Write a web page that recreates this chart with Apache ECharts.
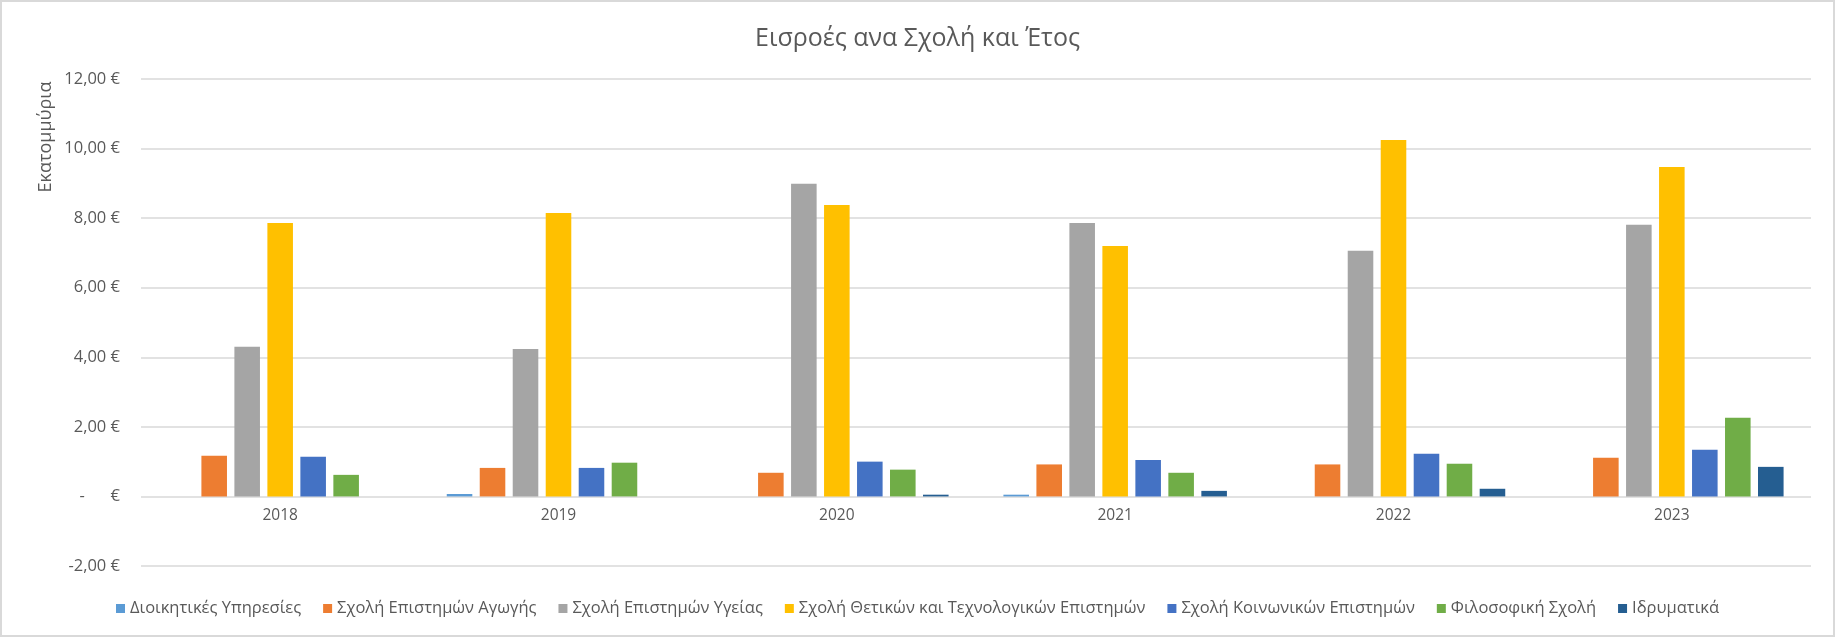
<!DOCTYPE html>
<html>
<head>
<meta charset="utf-8">
<script src="https://cdn.jsdelivr.net/npm/echarts@6/dist/echarts.min.js"></script>
<style>
html,body{margin:0;padding:0;background:#fff;}
#c{width:1835px;height:637px;box-sizing:border-box;border:2px solid #d9d9d9;}
</style>
</head>
<body>
<div id="c"></div>
<script>
const years = ['2018','2019','2020','2021','2022','2023'];
const seriesNames = [
  'Διοικητικές Υπηρεσίες',
  'Σχολή Επιστημών Αγωγής',
  'Σχολή Επιστημών Υγείας',
  'Σχολή Θετικών και Τεχνολογικών Επιστημών',
  'Σχολή Κοινωνικών Επιστημών',
  'Φιλοσοφική Σχολή',
  'Ιδρυματικά'
];
const dioikitikes = [0, 0.07, 0, 0.05, 0, 0];
const agogis = [1.17, 0.82, 0.68, 0.92, 0.92, 1.11];
const ygeias = [4.30, 4.24, 8.99, 7.86, 7.06, 7.81];
const thetikon = [7.86, 8.15, 8.38, 7.20, 10.25, 9.47];
const koinonikon = [1.14, 0.82, 1.00, 1.05, 1.23, 1.34];
const filosofiki = [0.62, 0.97, 0.77, 0.68, 0.94, 2.26];
const idrymatika = [0, 0, 0.05, 0.16, 0.22, 0.85];
const yTicks = [-2, 0, 2, 4, 6, 8, 10, 12];

const values = [dioikitikes, agogis, ygeias, thetikon, koinonikon, filosofiki, idrymatika];
const colors = ['#5B9BD5','#ED7D31','#A5A5A5','#FFC000','#4472C4','#70AD47','#255E91'];
const FONT = '"Open Sans", "Noto Sans", sans-serif';
const TXT = '#595959';

function fmt(v){
  if (v === 0) return '-      €';
  return v.toFixed(2).replace('.', ',') + ' €';
}

const GRID_TOP = 77, GRID_BOTTOM = 69, H = 637;
const yMin = yTicks[0], yMax = yTicks[yTicks.length - 1];
// pixel distance from grid bottom up to the zero line, so the year labels sit under zero
const zeroOffset = (H - GRID_TOP - GRID_BOTTOM) * (0 - yMin) / (yMax - yMin);

const chart = echarts.init(document.getElementById('c'));
chart.setOption({
  animation: false,
  color: colors,
  textStyle: { fontFamily: FONT },
  title: {
    text: 'Εισροές ανα Σχολή και Έτος',
    left: 'center',
    top: 19,
    textStyle: { fontFamily: FONT, fontSize: 25, fontWeight: 'normal', color: TXT }
  },
  legend: {
    data: seriesNames,
    top: 593,
    left: 'center',
    icon: 'rect',
    itemWidth: 9,
    itemHeight: 9,
    itemGap: 22,
    textStyle: { fontFamily: FONT, fontSize: 16.5, color: TXT }
  },
  graphic: [{
    type: 'text',
    x: 44,
    y: 135,
    rotation: Math.PI / 2,
    style: { text: 'Εκατομμύρια', fill: TXT, font: '18px ' + FONT, textAlign: 'center', textVerticalAlign: 'middle' }
  }],
  grid: { left: 139, right: 22, top: GRID_TOP, bottom: GRID_BOTTOM },
  xAxis: {
    type: 'category',
    data: years,
    offset: -zeroOffset,
    axisTick: { show: false },
    axisLine: { show: false, onZero: false },
    axisLabel: { color: TXT, fontSize: 15.5, fontFamily: FONT, margin: 12 }
  },
  yAxis: {
    type: 'value',
    min: yMin,
    max: yMax,
    interval: 2,
    axisLine: { show: false },
    axisTick: { show: false },
    splitLine: { lineStyle: { color: '#d9d9d9', width: 1.5 } },
    axisLabel: { color: TXT, fontSize: 16.5, fontFamily: FONT, margin: 21, formatter: fmt }
  },
  series: seriesNames.map((n, i) => ({
    name: n,
    type: 'bar',
    data: values[i],
    barGap: '29%',
    barCategoryGap: '19.7%'
  }))
});
</script>
</body>
</html>
